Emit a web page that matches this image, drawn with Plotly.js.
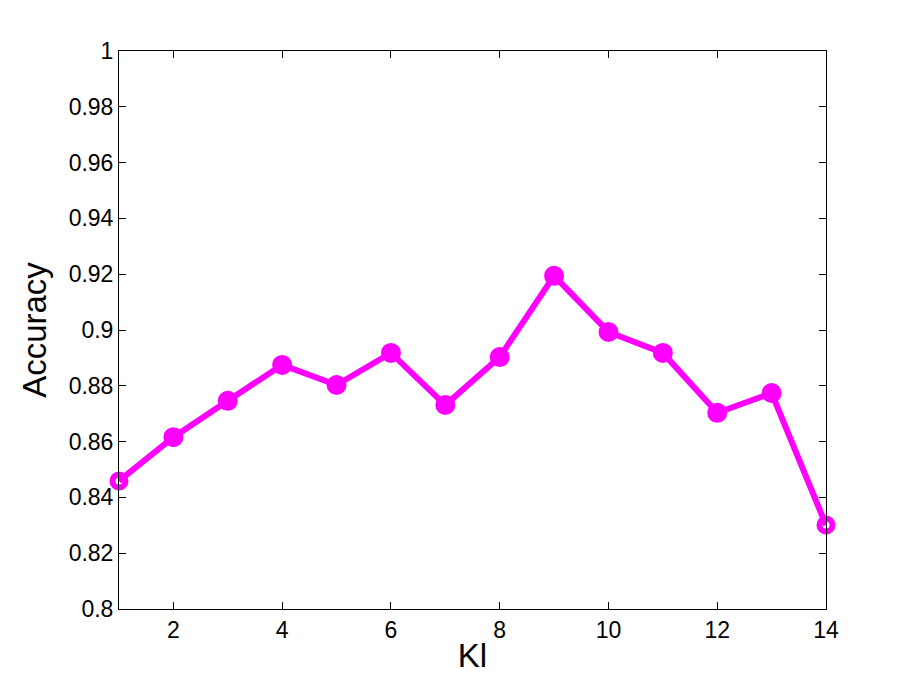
<!DOCTYPE html>
<html>
<head>
<meta charset="utf-8">
<script src="https://cdn.plot.ly/plotly-3.0.1.min.js"></script>
<style>html,body{margin:0;padding:0;background:#fff;}#chart{width:913px;height:685px;}</style>
</head>
<body>
<div id="chart"></div>
<script>
const klValues = [1, 2, 3, 4, 5, 6, 7, 8, 9, 10, 11, 12, 13, 14];
const accuracy = [0.8459, 0.8616, 0.8746, 0.8875, 0.8803, 0.8918, 0.8731, 0.8903, 0.9194, 0.8993, 0.8918, 0.8703, 0.8774, 0.8301];
const xTicks = [2, 4, 6, 8, 10, 12, 14];
const yTicks = [0.8, 0.82, 0.84, 0.86, 0.88, 0.9, 0.92, 0.94, 0.96, 0.98, 1];
const yTickLabels = ['0.8', '0.82', '0.84', '0.86', '0.88', '0.9', '0.92', '0.94', '0.96', '0.98', '1'];

const isEnd = (i) => i === 0 || i === klValues.length - 1;
const symbols = klValues.map((v, i) => isEnd(i) ? 'circle-open' : 'circle');
const sizes = klValues.map((v, i) => isEnd(i) ? 13 : 18);
const lineWidths = klValues.map((v, i) => isEnd(i) ? 6 : 2);

const trace = {
  x: klValues, y: accuracy, type: 'scatter', mode: 'lines+markers',
  line: {color: '#ff00ff', width: 6},
  marker: {color: '#ff00ff', opacity: 1, symbol: symbols, size: sizes, line: {color: '#ff00ff', width: lineWidths}},
  opacity: 1,
  cliponaxis: false,
  hoverinfo: 'x+y'
};

const fam = '"Liberation Sans", Arial, Helvetica, sans-serif';
const layout = {
  width: 913, height: 685,
  margin: {l: 119, r: 87, t: 51, b: 76},
  paper_bgcolor: '#fff', plot_bgcolor: '#fff',
  showlegend: false,
  font: {family: fam, color: '#000'},
  xaxis: {
    range: [1, 14], tickvals: xTicks, ticks: 'inside', ticklen: 7, tickcolor: '#000', tickwidth: 1,
    showline: true, linecolor: '#000', linewidth: 1, mirror: 'ticks', showgrid: false, zeroline: false,
    tickfont: {family: fam, size: 23, color: '#000'},
    title: {text: 'Kl', font: {family: fam, size: 33, color: '#000'}, standoff: 2}
  },
  yaxis: {
    range: [0.8, 1], tickvals: yTicks, ticktext: yTickLabels, ticks: 'inside', ticklen: 7, tickcolor: '#000', tickwidth: 1,
    showline: true, linecolor: '#000', linewidth: 1, mirror: 'ticks', showgrid: false, zeroline: false,
    tickfont: {family: fam, size: 23, color: '#000'},
    title: {text: 'Accuracy', font: {family: fam, size: 33, color: '#000'}, standoff: 12}
  }
};
Plotly.newPlot('chart', [trace], layout, {displayModeBar: false, staticPlot: true});
</script>
</body>
</html>
